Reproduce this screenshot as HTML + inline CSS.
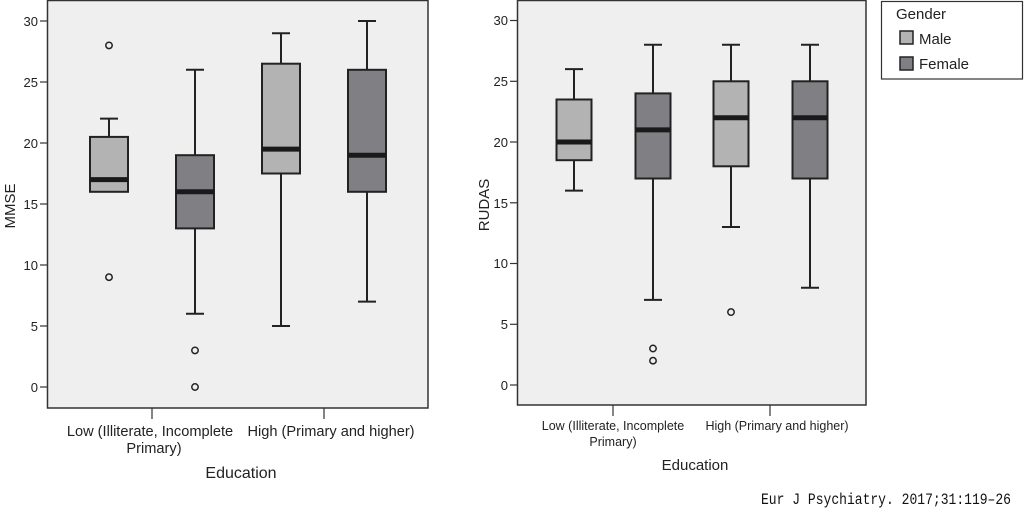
<!DOCTYPE html>
<html><head><meta charset="utf-8"><style>body{margin:0;background:#fff}svg{display:block}</style></head><body>
<svg width="1024" height="522" viewBox="0 0 1024 522" xmlns="http://www.w3.org/2000/svg" font-family="Liberation Sans, sans-serif" fill="#222">
<!-- LEFT -->
<rect x="47.5" y="0.5" width="380.5" height="407.5" fill="#efefef" stroke="#333" stroke-width="1.5"/>
<g stroke="#333" stroke-width="1.2">
<line x1="40" y1="21" x2="47" y2="21"/><line x1="40" y1="82" x2="47" y2="82"/><line x1="40" y1="143" x2="47" y2="143"/><line x1="40" y1="204" x2="47" y2="204"/><line x1="40" y1="265" x2="47" y2="265"/><line x1="40" y1="326" x2="47" y2="326"/><line x1="40" y1="387" x2="47" y2="387"/>
<line x1="152" y1="408" x2="152" y2="419"/><line x1="324" y1="408" x2="324" y2="419"/>
</g>
<g font-size="13" text-anchor="end" fill="#222">
<text x="38" y="26">30</text><text x="38" y="87">25</text><text x="38" y="148">20</text><text x="38" y="209">15</text><text x="38" y="270">10</text><text x="38" y="331">5</text><text x="38" y="392">0</text>
</g>
<text transform="translate(15,206) rotate(-90)" font-size="15" text-anchor="middle" fill="#222">MMSE</text>
<g font-size="14.6" text-anchor="middle" fill="#222">
<text x="150" y="436">Low (Illiterate, Incomplete</text><text x="154" y="453">Primary)</text>
<text x="331" y="436">High (Primary and higher)</text>
</g>
<text x="241" y="478" font-size="16" text-anchor="middle" fill="#222">Education</text>
<g stroke="#222" stroke-width="2">
<line x1="109" y1="118.6" x2="109" y2="191.8"/><line x1="100" y1="118.6" x2="118" y2="118.6"/>
<rect x="90" y="136.9" width="38" height="54.9" fill="#b3b3b3"/>
<line x1="90" y1="179.6" x2="128" y2="179.6" stroke-width="5" stroke="#1a1a1a"/>
<line x1="195" y1="69.8" x2="195" y2="313.8"/><line x1="186" y1="69.8" x2="204" y2="69.8"/><line x1="186" y1="313.8" x2="204" y2="313.8"/>
<rect x="176" y="155.2" width="38" height="73.2" fill="#808084"/>
<line x1="176" y1="191.8" x2="214" y2="191.8" stroke-width="5" stroke="#1a1a1a"/>
<line x1="281" y1="33.2" x2="281" y2="326"/><line x1="272" y1="33.2" x2="290" y2="33.2"/><line x1="272" y1="326" x2="290" y2="326"/>
<rect x="262" y="63.7" width="38" height="109.8" fill="#b3b3b3"/>
<line x1="262" y1="149.1" x2="300" y2="149.1" stroke-width="5" stroke="#1a1a1a"/>
<line x1="367" y1="21" x2="367" y2="301.6"/><line x1="358" y1="21" x2="376" y2="21"/><line x1="358" y1="301.6" x2="376" y2="301.6"/>
<rect x="348" y="69.8" width="38" height="122" fill="#808084"/>
<line x1="348" y1="155.2" x2="386" y2="155.2" stroke-width="5" stroke="#1a1a1a"/>
</g>
<g fill="none" stroke="#222" stroke-width="1.5">
<circle cx="109" cy="45.4" r="3.2"/><circle cx="109" cy="277.2" r="3.2"/><circle cx="195" cy="350.4" r="3.2"/><circle cx="195" cy="387" r="3.2"/>
</g>
<!-- RIGHT -->
<rect x="517.5" y="0.5" width="348.5" height="404.5" fill="#efefef" stroke="#333" stroke-width="1.5"/>
<g stroke="#333" stroke-width="1.2">
<line x1="510" y1="20.5" x2="517" y2="20.5"/><line x1="510" y1="81.3" x2="517" y2="81.3"/><line x1="510" y1="142" x2="517" y2="142"/><line x1="510" y1="202.8" x2="517" y2="202.8"/><line x1="510" y1="263.5" x2="517" y2="263.5"/><line x1="510" y1="324.3" x2="517" y2="324.3"/><line x1="510" y1="385" x2="517" y2="385"/>
<line x1="613" y1="405" x2="613" y2="416"/><line x1="770" y1="405" x2="770" y2="416"/>
</g>
<g font-size="13" text-anchor="end" fill="#222">
<text x="508" y="25">30</text><text x="508" y="86">25</text><text x="508" y="147">20</text><text x="508" y="208">15</text><text x="508" y="268">10</text><text x="508" y="329">5</text><text x="508" y="390">0</text>
</g>
<text transform="translate(489,205) rotate(-90)" font-size="15" text-anchor="middle" fill="#222">RUDAS</text>
<g font-size="12.5" text-anchor="middle" fill="#222">
<text x="613" y="430">Low (Illiterate, Incomplete</text><text x="613" y="446">Primary)</text>
<text x="777" y="430">High (Primary and higher)</text>
</g>
<text x="695" y="470" font-size="15" text-anchor="middle" fill="#222">Education</text>
<g stroke="#222" stroke-width="2">
<line x1="574" y1="69.1" x2="574" y2="190.6"/><line x1="565" y1="69.1" x2="583" y2="69.1"/><line x1="565" y1="190.6" x2="583" y2="190.6"/>
<rect x="556.5" y="99.5" width="35" height="60.7" fill="#b3b3b3"/>
<line x1="556.5" y1="142" x2="591.5" y2="142" stroke-width="5" stroke="#1a1a1a"/>
<line x1="653" y1="44.8" x2="653" y2="299.9"/><line x1="644" y1="44.8" x2="662" y2="44.8"/><line x1="644" y1="299.9" x2="662" y2="299.9"/>
<rect x="635.5" y="93.4" width="35" height="85.1" fill="#808084"/>
<line x1="635.5" y1="129.9" x2="670.5" y2="129.9" stroke-width="5" stroke="#1a1a1a"/>
<line x1="731" y1="44.8" x2="731" y2="227"/><line x1="722" y1="44.8" x2="740" y2="44.8"/><line x1="722" y1="227" x2="740" y2="227"/>
<rect x="713.5" y="81.3" width="35" height="85" fill="#b3b3b3"/>
<line x1="713.5" y1="117.7" x2="748.5" y2="117.7" stroke-width="5" stroke="#1a1a1a"/>
<line x1="810" y1="44.8" x2="810" y2="287.8"/><line x1="801" y1="44.8" x2="819" y2="44.8"/><line x1="801" y1="287.8" x2="819" y2="287.8"/>
<rect x="792.5" y="81.3" width="35" height="97.2" fill="#808084"/>
<line x1="792.5" y1="117.7" x2="827.5" y2="117.7" stroke-width="5" stroke="#1a1a1a"/>
</g>
<g fill="none" stroke="#222" stroke-width="1.5">
<circle cx="653" cy="348.5" r="3.2"/><circle cx="653" cy="360.7" r="3.2"/><circle cx="731" cy="312.1" r="3.2"/>
</g>
<!-- LEGEND -->
<rect x="881.5" y="1.5" width="141" height="77.5" fill="#fff" stroke="#333" stroke-width="1.2"/>
<text x="896" y="19" font-size="15" fill="#222">Gender</text>
<rect x="900" y="31" width="13" height="13" fill="#b3b3b3" stroke="#222" stroke-width="1.5"/>
<text x="919" y="44" font-size="15" fill="#222">Male</text>
<rect x="900" y="57" width="13" height="13" fill="#808084" stroke="#222" stroke-width="1.5"/>
<text x="919" y="69" font-size="15" fill="#222">Female</text>
<text x="1011" y="504" font-size="16" font-family="Liberation Mono, monospace" text-anchor="end" fill="#111" textLength="250" lengthAdjust="spacingAndGlyphs">Eur J Psychiatry. 2017;31:119–26</text>
</svg>
</body></html>
